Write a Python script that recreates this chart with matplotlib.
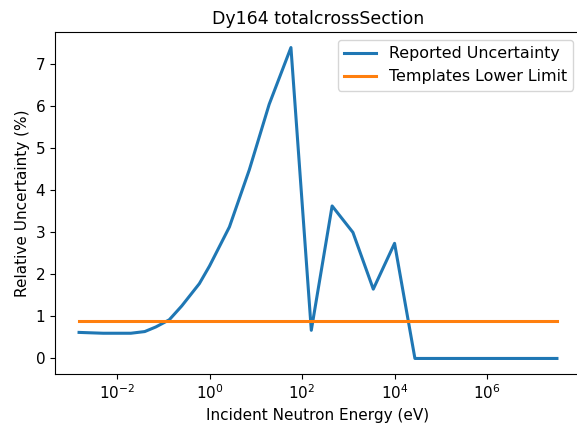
import matplotlib
matplotlib.use("Agg")
import matplotlib.pyplot as plt
import numpy as np

# log10 of incident energy (eV) and reported relative uncertainty (%)
log_energy = [-2.82, -2.3, -1.7, -1.4, -1.16, -0.87, -0.6, -0.22, 0.0, 0.43,
              0.86, 1.29, 1.76, 2.2, 2.65, 3.1, 3.54, 4.0, 4.44, 7.51]
uncertainty = [0.62, 0.60, 0.60, 0.64, 0.75, 0.92, 1.25, 1.78, 2.2, 3.13,
               4.49, 6.05, 7.4, 0.67, 3.63, 3.0, 1.65, 2.74, 0.0, 0.0]
lower_limit = 0.9

energy = 10.0 ** np.array(log_energy)

fig = plt.figure(figsize=(5.77, 4.23), dpi=100)
ax = fig.add_axes([55 / 577, 49 / 423, 526 / 577, 342 / 423])
ax.plot(energy, uncertainty, color="#1f77b4", lw=2.2, label="Reported Uncertainty")
ax.plot([energy[0], energy[-1]], [lower_limit, lower_limit], color="#ff7f0e", lw=2.2,
        label="Templates Lower Limit")
ax.set_xscale("log")
ax.set_xlim(10 ** -3.34, 10 ** 8.03)
ax.set_ylim(-0.37, 7.77)
ax.set_xticks([1e-2, 1e0, 1e2, 1e4, 1e6])
ax.tick_params(labelsize=11)
ax.set_xlabel("Incident Neutron Energy (eV)", fontsize=11)
ax.set_ylabel("Relative Uncertainty (%)", fontsize=11)
ax.set_title("Dy164 totalcrossSection", fontsize=12.5)
ax.legend(loc="upper right", fontsize=11.4)
fig.savefig("out.png", dpi=100)
